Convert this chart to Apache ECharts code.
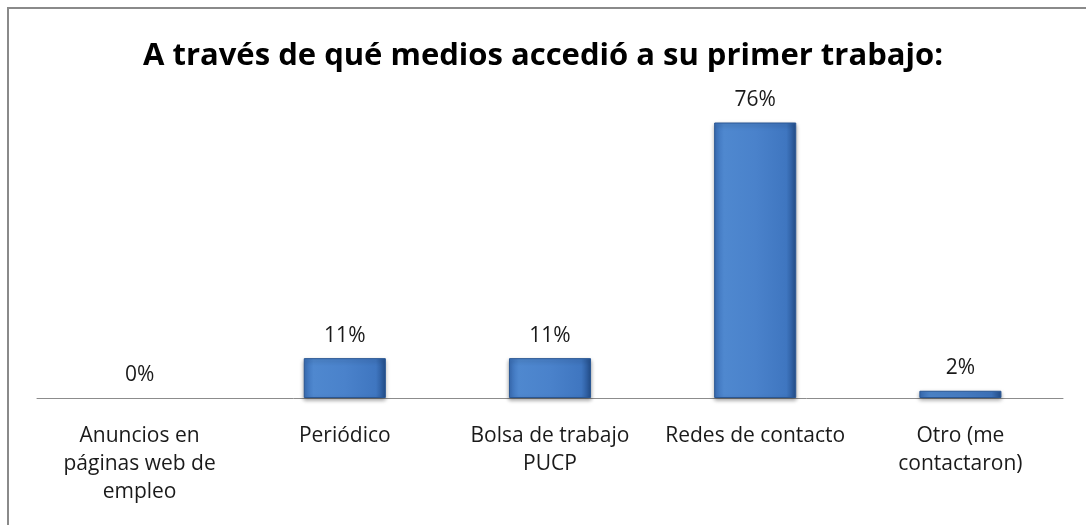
<!DOCTYPE html>
<html>
<head>
<meta charset="utf-8">
<script src="https://cdn.jsdelivr.net/npm/echarts@6/dist/echarts.min.js"></script>
<style>
  html, body { margin: 0; padding: 0; background: #fff; }
  #chart { width: 1086px; height: 525px; }
</style>
</head>
<body>
<div id="chart"></div>
<script>
const titleText = 'A través de qué medios accedió a su primer trabajo:';
const categories = [
  'Anuncios en\npáginas web de\nempleo',
  'Periódico',
  'Bolsa de trabajo\nPUCP',
  'Redes de contacto',
  'Otro (me\ncontactaron)'
];
const values = [0, 11, 11, 76, 2];

const chart = echarts.init(document.getElementById('chart'));

const barFill = new echarts.graphic.LinearGradient(0, 0, 1, 0, [
  { offset: 0, color: '#3a6fb8' },
  { offset: 0.12, color: '#4f88cf' },
  { offset: 0.5, color: '#4a82cb' },
  { offset: 0.88, color: '#3f76c0' },
  { offset: 1, color: '#24508e' }
]);

const font = '"Open Sans", sans-serif';

// zero-height bar: keep its label, hide the sliver
const barData = values.map(v => v === 0
  ? { value: v, itemStyle: { color: 'transparent', borderWidth: 0, shadowBlur: 0, shadowColor: 'transparent' } }
  : v);

chart.setOption({
  animation: false,
  title: {
    text: titleText,
    left: 'center',
    top: 36,
    textStyle: {
      fontFamily: font,
      fontSize: 31,
      fontWeight: 'bold',
      color: '#000'
    }
  },
  graphic: [{
    type: 'rect',
    shape: { x: 8, y: 8, width: 1100, height: 540 },
    style: { fill: 'none', stroke: '#8a8a8a', lineWidth: 2 },
    silent: true
  }],
  grid: { left: 37, right: 23, top: 108, bottom: 127 },
  xAxis: {
    type: 'category',
    data: categories,
    axisLine: { show: true, lineStyle: { color: '#8c8c8c', width: 1 } },
    axisTick: { show: false },
    axisLabel: {
      interval: 0,
      margin: 24,
      fontFamily: font,
      fontSize: 21,
      lineHeight: 28,
      color: '#1a1a1a'
    }
  },
  yAxis: {
    type: 'value',
    min: 0,
    max: 80,
    show: false,
    splitLine: { show: false }
  },
  series: [{
    type: 'bar',
    data: barData,
    barWidth: '40%',
    itemStyle: {
      color: barFill,
      borderColor: '#2a5794',
      borderWidth: 1,
      shadowColor: 'rgba(0,0,0,0.35)',
      shadowBlur: 4,
      shadowOffsetY: 2
    },
    label: {
      show: true,
      position: 'top',
      distance: 12,
      formatter: '{c}%',
      fontFamily: font,
      fontSize: 21,
      color: '#1a1a1a'
    }
  }]
});
</script>
</body>
</html>
